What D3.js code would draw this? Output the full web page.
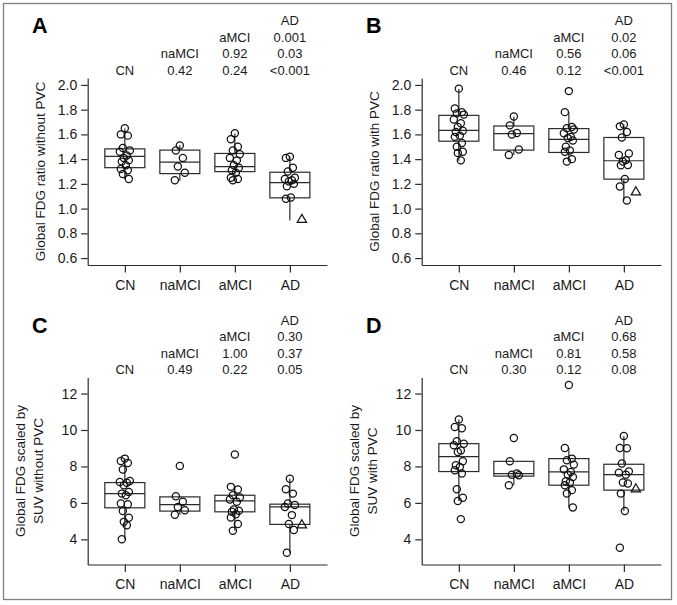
<!DOCTYPE html>
<html lang="en">

<head>
    <meta charset="UTF-8" />
    <title>Global FDG by group</title>
    <script src="https://d3js.org/d3.v7.js"></script>
    <style>
        body { margin: 0; background: #fff; }
        svg { display: block; }
    </style>
</head>

<body>
    <script>
        var w = 677;
        var h = 605;

        var categories = ["CN", "naMCI", "aMCI", "AD"];

        // Panel A: global FDG ratio without PVC
        var A_CN = [1.65, 1.60, 1.59, 1.49, 1.47, 1.46, 1.43, 1.41, 1.39, 1.38, 1.35, 1.32, 1.31, 1.28, 1.24];
        var A_naMCI = [1.51, 1.47, 1.41, 1.34, 1.29, 1.23];
        var A_aMCI = [1.61, 1.56, 1.50, 1.47, 1.44, 1.41, 1.39, 1.35, 1.33, 1.31, 1.29, 1.25, 1.24, 1.23];
        var A_AD = [1.42, 1.41, 1.33, 1.30, 1.25, 1.24, 1.23, 1.22, 1.20, 1.18, 1.09, 1.08];
        var A_triangle = 0.91;
        var A_q1 = [1.331, 1.283, 1.299, 1.087];
        var A_median = [1.422, 1.376, 1.339, 1.21];
        var A_q3 = [1.483, 1.473, 1.446, 1.294];
        var A_low = [1.238, 1.226, 1.23, 0.903];
        var A_high = [1.647, 1.513, 1.607, 1.419];
        var A_p = [[], ["0.42"], ["0.92", "0.24"], ["0.001", "0.03", "<0.001"]];

        // Panel B: global FDG ratio with PVC
        var B_CN = [1.97, 1.81, 1.78, 1.77, 1.76, 1.72, 1.69, 1.66, 1.63, 1.62, 1.59, 1.58, 1.53, 1.50, 1.46, 1.45, 1.39];
        var B_naMCI = [1.745, 1.673, 1.612, 1.599, 1.478, 1.433];
        var B_aMCI = [1.95, 1.78, 1.66, 1.65, 1.64, 1.61, 1.58, 1.57, 1.55, 1.50, 1.47, 1.46, 1.40, 1.38];
        var B_AD = [1.68, 1.665, 1.62, 1.575, 1.446, 1.433, 1.392, 1.38, 1.352, 1.35, 1.24, 1.178, 1.066];
        var B_triangle = 1.133;
        var B_q1 = [1.545, 1.473, 1.454, 1.238];
        var B_median = [1.633, 1.607, 1.559, 1.387];
        var B_q3 = [1.754, 1.668, 1.647, 1.575];
        var B_low = [1.387, 1.433, 1.384, 1.066];
        var B_high = [1.968, 1.745, 1.78, 1.681];
        var B_p = [[], ["0.46"], ["0.56", "0.12"], ["0.02", "0.06", "<0.001"]];

        // Panel C: scaled by SUV without PVC
        var C_CN = [8.43, 8.30, 8.19, 7.83, 7.20, 7.15, 7.10, 6.97, 6.60, 6.51, 6.42, 5.97, 5.93, 5.56, 5.18, 4.96, 4.77, 4.0];
        var C_naMCI = [8.03, 6.37, 6.06, 5.78, 5.60, 5.35];
        var C_aMCI = [8.66, 6.88, 6.73, 6.42, 6.30, 6.19, 6.06, 5.64, 5.57, 5.51, 5.38, 5.20, 4.84, 4.47];
        var C_AD = [7.33, 6.75, 6.51, 5.97, 5.88, 5.78, 5.33, 4.84, 4.51, 3.27];
        var C_triangle = 4.78;
        var C_q1 = [5.73, 5.55, 5.51, 4.82];
        var C_median = [6.51, 5.91, 6.11, 5.78];
        var C_q3 = [7.115, 6.33, 6.42, 5.93];
        var C_low = [4.0, 5.35, 4.47, 3.27];
        var C_high = [8.43, 6.37, 6.88, 7.33];
        var C_p = [[], ["0.49"], ["1.00", "0.22"], ["0.30", "0.37", "0.05"]];

        // Panel D: scaled by SUV with PVC
        var D_CN = [10.58, 10.16, 10.10, 9.38, 9.25, 9.16, 8.88, 8.79, 8.28, 8.06, 7.97, 7.79, 7.61, 6.75, 6.28, 6.10, 5.11];
        var D_naMCI = [9.56, 8.28, 7.61, 7.55, 7.52, 6.97];
        var D_aMCI = [12.47, 9.01, 8.43, 8.34, 8.10, 7.84, 7.70, 7.55, 7.42, 7.19, 7.12, 6.97, 6.70, 6.52, 5.75];
        var D_AD = [9.67, 9.01, 9.0, 8.16, 7.73, 7.66, 7.55, 7.12, 7.06, 6.51, 5.55, 3.54];
        var D_triangle = 6.75;
        var D_q1 = [7.72, 7.47, 6.97, 6.70];
        var D_median = [8.54, 7.61, 7.70, 7.55];
        var D_q3 = [9.25, 8.28, 8.43, 8.12];
        var D_low = [6.10, 6.97, 5.75, 5.55];
        var D_high = [10.58, 8.28, 9.01, 9.67];
        var D_p = [[], ["0.30"], ["0.81", "0.12"], ["0.68", "0.58", "0.08"]];

        var ratioTicks = [0.6, 0.8, 1.0, 1.2, 1.4, 1.6, 1.8, 2.0];
        var suvTicks = [4, 6, 8, 10, 12];

        var panels = [
            { letter: "A", ox: 0, oy: 0, title: ["Global FDG ratio without PVC"], domain: [0.544, 2.056], ticks: ratioTicks, fmt: d3.format(".1f"),
              groups: [A_CN, A_naMCI, A_aMCI, A_AD], tri: A_triangle, q1: A_q1, med: A_median, q3: A_q3, lo: A_low, hi: A_high, p: A_p },
            { letter: "B", ox: 334, oy: 0, title: ["Global FDG ratio with PVC"], domain: [0.544, 2.056], ticks: ratioTicks, fmt: d3.format(".1f"),
              groups: [B_CN, B_naMCI, B_aMCI, B_AD], tri: B_triangle, q1: B_q1, med: B_median, q3: B_q3, lo: B_low, hi: B_high, p: B_p },
            { letter: "C", ox: 0, oy: 299.5, title: ["Global FDG scaled by", "SUV without PVC"], domain: [2.62, 12.88], ticks: suvTicks, fmt: d3.format("d"),
              groups: [C_CN, C_naMCI, C_aMCI, C_AD], tri: C_triangle, q1: C_q1, med: C_median, q3: C_q3, lo: C_low, hi: C_high, p: C_p },
            { letter: "D", ox: 334, oy: 299.5, title: ["Global FDG scaled by", "SUV with PVC"], domain: [2.62, 12.88], ticks: suvTicks, fmt: d3.format("d"),
              groups: [D_CN, D_naMCI, D_aMCI, D_AD], tri: D_triangle, q1: D_q1, med: D_median, q3: D_q3, lo: D_low, hi: D_high, p: D_p }
        ];

        // small horizontal spread of the dots around the group centre (px)
        var jitter = [0, -4, 3, -2, 5, -5, 2, -1, 4, -3, 1, -4, 3, -2, 4, -1, 2, -3];

        var font = "'Liberation Sans', Arial, Helvetica, sans-serif";
        var ink = "#1a1a1a";
        var line = "#2b2b2b";

        var plotL = 87.7, plotR = 327, plotT = 78, plotB = 265;
        var boxW = 40;

        var svg = d3.select("body")
            .append("svg")
            .attr("width", w)
            .attr("height", h);

        // outer frame
        svg.append("rect")
            .attr("x", 3.5)
            .attr("y", 3.5)
            .attr("width", 668)
            .attr("height", 596)
            .attr("fill", "none")
            .attr("stroke", "#808080")
            .attr("stroke-width", 1.3);

        panels.forEach(function (p) {
            var g = svg.append("g")
                .attr("transform", "translate(" + p.ox + "," + p.oy + ")");

            var xScale = d3.scalePoint()
                .domain(categories)
                .range([plotL, plotR])
                .padding(0.675);

            var yScale = d3.scaleLinear()
                .domain(p.domain)
                .range([plotB, plotT]);

            // axes
            var yAxis = g.append("g")
                .attr("transform", "translate(" + plotL + ",0)")
                .call(d3.axisLeft(yScale).tickValues(p.ticks).tickFormat(p.fmt)
                    .tickSize(6.5).tickSizeOuter(0).tickPadding(4));

            var xAxis = g.append("g")
                .attr("transform", "translate(0," + plotB + ")")
                .call(d3.axisBottom(xScale).tickSize(7.5).tickSizeOuter(0).tickPadding(7.5));

            [yAxis, xAxis].forEach(function (a) {
                a.attr("font-family", font).attr("font-size", 14);
                a.selectAll("path, line").attr("stroke", line).attr("stroke-width", 1.2);
                a.selectAll("text").attr("fill", ink);
            });

            // y title, one or two lines
            p.title.forEach(function (t, i) {
                var bx = p.title.length == 1 ? 44.5 : 25 + i * 17.5;
                g.append("text")
                    .attr("transform", "translate(" + bx + "," + ((plotT + plotB) / 2) + ") rotate(-90)")
                    .attr("text-anchor", "middle")
                    .attr("font-family", font)
                    .attr("font-size", 13.5)
                    .attr("fill", ink)
                    .text(t);
            });

            // panel letter
            g.append("text")
                .attr("x", 32)
                .attr("y", 33)
                .attr("font-family", font)
                .attr("font-size", 21.5)
                .attr("font-weight", "bold")
                .attr("fill", "#000")
                .text(p.letter);

            // header: group name then p-values against the groups to its left
            categories.forEach(function (c, j) {
                var rows = [c].concat(p.p[j]);
                rows.forEach(function (t, k) {
                    g.append("text")
                        .attr("x", xScale(c))
                        .attr("y", 74.5 - (j - k) * 16.4)
                        .attr("text-anchor", "middle")
                        .attr("font-family", font)
                        .attr("font-size", 13)
                        .attr("fill", ink)
                        .text(t);
                });
            });

            // boxes and whiskers
            categories.forEach(function (c, i) {
                var cx = xScale(c);
                g.append("line")
                    .attr("x1", cx).attr("x2", cx)
                    .attr("y1", yScale(p.q3[i])).attr("y2", yScale(p.hi[i]))
                    .attr("stroke", line).attr("stroke-width", 1.2);
                g.append("line")
                    .attr("x1", cx).attr("x2", cx)
                    .attr("y1", yScale(p.q1[i])).attr("y2", yScale(p.lo[i]))
                    .attr("stroke", line).attr("stroke-width", 1.2);
                g.append("rect")
                    .attr("x", cx - boxW / 2)
                    .attr("y", yScale(p.q3[i]))
                    .attr("width", boxW)
                    .attr("height", yScale(p.q1[i]) - yScale(p.q3[i]))
                    .attr("fill", "none")
                    .attr("stroke", line)
                    .attr("stroke-width", 1.2);
                g.append("line")
                    .attr("x1", cx - boxW / 2).attr("x2", cx + boxW / 2)
                    .attr("y1", yScale(p.med[i])).attr("y2", yScale(p.med[i]))
                    .attr("stroke", line).attr("stroke-width", 1.2);

                // dots
                g.selectAll(".dot" + i)
                    .data(p.groups[i])
                    .enter()
                    .append("circle")
                    .attr("cx", function (d, k) { return cx + jitter[k % jitter.length]; })
                    .attr("cy", function (d) { return yScale(d); })
                    .attr("r", 3.6)
                    .attr("fill", "none")
                    .attr("stroke", "#111")
                    .attr("stroke-width", 1.25);
            });

            // the marked AD subject
            g.append("path")
                .attr("d", d3.symbol().type(d3.symbolTriangle).size(38)())
                .attr("transform", "translate(" + (xScale("AD") + 12) + "," + yScale(p.tri) + ")")
                .attr("fill", "none")
                .attr("stroke", "#111")
                .attr("stroke-width", 1.2);
        });
    </script>
</body>

</html>
